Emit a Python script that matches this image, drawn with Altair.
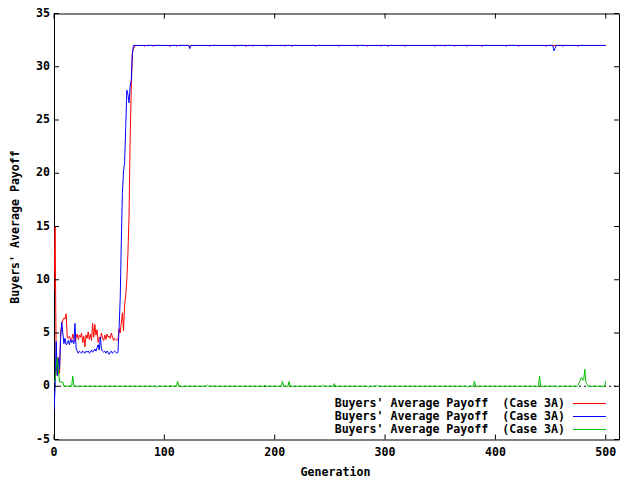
import altair as alt
import pandas as pd

# ---------------- data ----------------
red_early = [9.0, 15.0, 2.0, 1.0, 2.7, 1.2, 5.0, 5.8, 6.2, 6.4,
             6.3, 6.8, 4.6, 4.5, 4.7, 4.4, 4.3, 4.9, 4.5, 4.2,
             4.6, 4.9, 4.4, 4.8, 4.6, 5.0, 4.1, 4.7, 3.7, 4.8,
             4.5, 5.1, 4.4, 4.9, 4.3, 5.9, 4.6, 5.8, 4.8, 5.3,
             4.1, 4.6, 4.4, 5.0, 4.5, 4.3, 4.8, 4.4, 4.9, 4.6,
             4.7, 4.5, 5.0, 4.6, 4.3, 4.5, 4.4, 4.3, 4.4, 5.4,
             5.0, 6.0, 6.9, 5.2, 7.6, 8.5, 10.0, 12.5, 16.0, 23.3,
             27.8, 31.3, 31.7, 31.9, 32.0]
red_late_gen = [81, 82, 83, 89, 90, 91, 104, 105, 106, 110, 111, 112,
                122, 123, 124, 140, 141, 142, 163, 164, 165, 173, 174, 175,
                179, 180, 181, 192, 193, 194, 208, 209, 210, 215, 216, 217,
                236, 237, 238, 257, 258, 259, 274, 275, 276, 283, 284, 285,
                295, 296, 297, 302, 303, 304, 317, 318, 319, 344, 345, 346,
                353, 354, 355, 362, 363, 364, 373, 374, 375, 387, 388, 389,
                409, 410, 411, 420, 421, 422, 445, 446, 447, 460, 461, 462,
                474, 475, 476, 500]
red_late_val = [32, 31.9, 32, 32, 31.9, 32, 32, 31.9, 32, 32, 31.9, 32,
                32, 31.9, 32, 32, 31.9, 32, 32, 31.9, 32, 32, 31.9, 32,
                32, 31.9, 32, 32, 31.9, 32, 32, 31.9, 32, 32, 31.9, 32,
                32, 31.9, 32, 32, 31.9, 32, 32, 31.9, 32, 32, 31.9, 32,
                32, 31.9, 32, 32, 31.9, 32, 32, 31.9, 32, 32, 31.9, 32,
                32, 31.9, 32, 32, 31.9, 32, 32, 31.9, 32, 32, 31.9, 32,
                32, 31.9, 32, 32, 31.9, 32, 32, 31.9, 32, 32, 31.9, 32,
                32, 31.9, 32, 32]

blue_early = [-2.4, 0.0, 4.2, 1.0, 2.6, 1.6, 4.5, 6.0, 5.0, 4.0,
              4.5, 3.9, 4.0, 4.3, 3.9, 4.4, 4.1, 4.3, 4.0, 5.9,
              3.6, 3.3, 3.1, 3.3, 3.2, 3.1, 3.3, 3.2, 3.1, 3.3,
              3.2, 3.3, 3.1, 3.2, 3.4, 3.2, 3.3, 3.5, 3.3, 3.6,
              3.9, 3.4, 4.6, 3.5, 3.3, 3.2, 3.3, 3.1, 3.3, 3.2,
              3.0, 3.2, 3.3, 3.1, 3.2, 3.3, 3.2, 3.1, 3.2, 5.5,
              8.2, 13.6, 18.2, 20.2, 21.0, 24.3, 27.8, 27.4, 26.6, 28.2,
              28.7, 31.2, 32.0]
blue_late_gen = [122, 123, 124, 452, 453, 454, 455, 500]
blue_late_val = [32, 31.7, 32, 32, 31.5, 31.7, 32, 32]

green_gen = [0, 1, 2, 3, 4, 5, 8, 9, 16, 17, 18, 92, 93, 94, 105, 106, 107,
             111, 112, 113, 138, 139, 140, 190, 191, 192, 206, 207, 208,
             212, 213, 214, 243, 244, 245, 253, 254, 255, 284, 285, 286,
             292, 293, 294, 374, 375, 376, 380, 381, 382, 439, 440, 441,
             456, 457, 458, 474, 475, 477, 478, 479, 480, 481, 482, 483, 484,
             499, 500]
green_val = [0.35, 0.6, 1.6, 2.7, 1.5, 0.4, 0.4, 0.0, 0.0, 0.95, 0.0, 0.0, -0.1, 0.0,
             0.0, 0.1, 0.0, 0.0, 0.45, 0.0, 0.0, 0.1, 0.0, 0.0, 0.1, 0.0,
             0.0, 0.45, 0.0, 0.0, 0.45, 0.0, 0.0, 0.1, 0.0, 0.0, 0.25, 0.0,
             0.0, -0.1, 0.0, 0.0, 0.1, 0.0, 0.0, -0.1, 0.0, 0.0, 0.47, 0.0,
             0.0, 0.97, 0.0, 0.0, -0.1, 0.0, 0.0, 0.1, 0.6, 0.84, 0.6, 0.6,
             1.6, 0.35, 0.2, 0.0, 0.0, 0.47]

x_ticks = [0, 100, 200, 300, 400, 500]
y_ticks = [-5, 0, 5, 10, 15, 20, 25, 30, 35]
legend_label = "Buyers' Average Payoff\u00a0 (Case 3A)"
x_title = "Generation"
y_title = "Buyers' Average Payoff"

# ---------------- tables ----------------
red_df = pd.DataFrame({"gen": list(range(len(red_early))) + red_late_gen,
                       "val": red_early + red_late_val})
blue_df = pd.DataFrame({"gen": list(range(len(blue_early))) + blue_late_gen,
                        "val": blue_early + blue_late_val})
green_df = pd.DataFrame({"gen": green_gen, "val": green_val})
xt_df = pd.DataFrame({"t": x_ticks, "lab": [str(v) for v in x_ticks]})
yt_df = pd.DataFrame({"t": y_ticks, "lab": [str(v) for v in y_ticks]})
zero_df = pd.DataFrame({"a": [0], "b": [512], "y": [0]})

FONT = "DejaVu Sans Mono"
FS = 11.6
W, H = 565, 426

xscale = alt.Scale(domain=[0, 512], nice=False, zero=False)
yscale = alt.Scale(domain=[-5, 35], nice=False, zero=False)
TXT = dict(font=FONT, fontSize=FS, fontWeight="bold", color="black")

zero = alt.Chart(zero_df).mark_rule(color="black", strokeWidth=1,
                                    strokeDash=[2, 3]).encode(
    x=alt.X("a:Q", scale=xscale, axis=None),
    x2="b:Q",
    y=alt.Y("y:Q", scale=yscale, axis=None))


def series(df, col):
    return alt.Chart(df).mark_line(color=col, strokeWidth=1, clip=True).encode(
        x=alt.X("gen:Q", scale=xscale, axis=None),
        y=alt.Y("val:Q", scale=yscale, axis=None),
        order="gen:Q")


red = series(red_df, "#ff0000")
blue = series(blue_df, "#0000ff")
green = series(green_df, "#00c000")

tick_b = alt.Chart(xt_df).mark_rule(color="black").encode(
    x=alt.X("t:Q", scale=xscale, axis=None), y=alt.value(H), y2=alt.value(H - 5))
tick_t = alt.Chart(xt_df).mark_rule(color="black").encode(
    x=alt.X("t:Q", scale=xscale, axis=None), y=alt.value(0), y2=alt.value(5))
tick_l = alt.Chart(yt_df).mark_rule(color="black").encode(
    y=alt.Y("t:Q", scale=yscale, axis=None), x=alt.value(0), x2=alt.value(5))
tick_r = alt.Chart(yt_df).mark_rule(color="black").encode(
    y=alt.Y("t:Q", scale=yscale, axis=None), x=alt.value(W), x2=alt.value(W - 5))

xlab = alt.Chart(xt_df).mark_text(align="center", baseline="middle", **TXT).encode(
    x=alt.X("t:Q", scale=xscale, axis=None), y=alt.value(H + 13.5), text="lab:N")
ylab = alt.Chart(yt_df).mark_text(align="right", baseline="middle", **TXT).encode(
    y=alt.Y("t:Q", scale=yscale, axis=None), x=alt.value(-4), text="lab:N")
xtit = alt.Chart(pd.DataFrame({"s": [x_title]})).mark_text(
    align="center", baseline="middle", **TXT).encode(
    text="s:N", x=alt.value(281.5), y=alt.value(459))
ytit = alt.Chart(pd.DataFrame({"s": [y_title]})).mark_text(
    align="center", baseline="middle", angle=270, **TXT).encode(
    text="s:N", x=alt.value(-38.5), y=alt.value(213.5))

leg_layers = []
for ypix, col in [(390, "#ff0000"), (403, "#0000ff"), (416, "#00c000")]:
    ldf = pd.DataFrame({"label": [legend_label]})
    leg_layers.append(alt.Chart(ldf).mark_text(
        align="right", baseline="middle", **TXT).encode(
        text="label:N", x=alt.value(511), y=alt.value(ypix)))
    leg_layers.append(alt.Chart(ldf).mark_rect(color=col, strokeWidth=0).encode(
        x=alt.value(519), x2=alt.value(552),
        y=alt.value(ypix - 0.5), y2=alt.value(ypix + 0.5)))

chart = alt.layer(zero, red, blue, green, tick_b, tick_t, tick_l, tick_r,
                  xlab, ylab, xtit, ytit, *leg_layers).properties(
    width=W, height=H, autosize="none",
    padding={"left": 46, "top": 5.5, "right": 12, "bottom": 42},
    background="white",
).configure_view(stroke="black", strokeWidth=1)

chart.save("out.html", embed_options={"renderer": "svg", "actions": False})
